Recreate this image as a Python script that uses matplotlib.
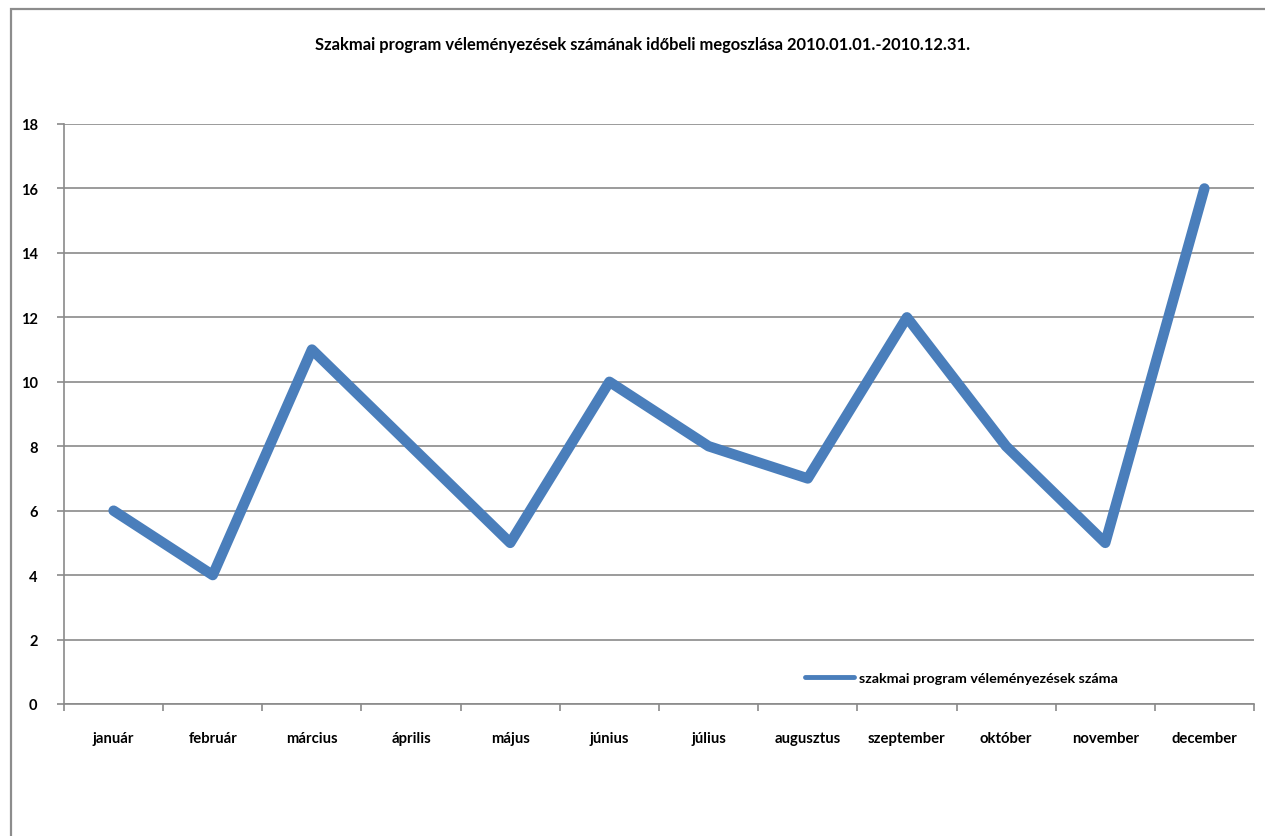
import matplotlib.pyplot as plt
from matplotlib.patches import Rectangle
from matplotlib.ticker import FixedLocator, MultipleLocator

honapok = ["január", "február", "március", "április", "május", "június",
           "július", "augusztus", "szeptember", "október", "november", "december"]
ertekek = [6, 4, 11, 8, 5, 10, 8, 7, 12, 8, 5, 16]
sorozat_nev = "szakmai program véleményezések száma"
cim = "Szakmai program véleményezések számának időbeli megoszlása 2010.01.01.-2010.12.31."

plt.rcParams["font.family"] = ["Lato", "DejaVu Sans"]
plt.rcParams["font.weight"] = "bold"

fig = plt.figure(figsize=(12.65, 8.37), dpi=100)
ax = fig.add_axes([64 / 1265, 132 / 837, (1254 - 64) / 1265, (705 - 125) / 837])

# chart area border
fig.patches.append(Rectangle((11 / 1265, -0.05), 1.2, 1 - 10 / 837 + 0.05,
                             transform=fig.transFigure, fill=False,
                             edgecolor="#8c8c8c", linewidth=1.6))

x = list(range(len(honapok)))
ax.plot(x, ertekek, color="#4a7ebb", linewidth=7.5, solid_capstyle="round",
        solid_joinstyle="round", label=sorozat_nev, zorder=3)

ax.set_xlim(-0.5, len(honapok) - 0.5)
ax.set_ylim(0, 18)
ax.yaxis.set_major_locator(MultipleLocator(2))
ax.grid(axis="y", color="#8a8a8a", linewidth=1.2)
ax.set_axisbelow(True)

ax.set_xticks(x)
ax.set_xticklabels(honapok, fontsize=10.7, fontweight="bold")
ax.xaxis.set_minor_locator(FixedLocator([i - 0.5 for i in range(len(honapok) + 1)]))
ax.tick_params(axis="x", which="major", length=0, pad=19.5)
ax.tick_params(axis="x", which="minor", length=5, color="#8a8a8a", width=1.2)
ax.tick_params(axis="y", length=5, color="#8a8a8a", width=1.2, pad=14, labelsize=10.5)
for lbl in ax.get_yticklabels():
    lbl.set_fontweight("bold")

for side in ["top", "right"]:
    ax.spines[side].set_visible(False)
for side in ["left", "bottom"]:
    ax.spines[side].set_color("#8a8a8a")
    ax.spines[side].set_linewidth(1.2)

fig.text(643 / 1265, 1 - 45 / 837, cim, ha="center", va="center",
         fontsize=11.9, fontweight="bold")

leg = ax.legend(loc="center left", bbox_to_anchor=(792 / 1265, 1 - 679 / 837),
                bbox_transform=fig.transFigure, frameon=False, handlelength=3.4,
                handletextpad=0.35, prop={"size": 10.3, "weight": "bold"})
leg.get_lines()[0].set_linewidth(3.5)
leg.get_lines()[0].set_solid_capstyle("round")

fig.savefig("out.png", dpi=100)
